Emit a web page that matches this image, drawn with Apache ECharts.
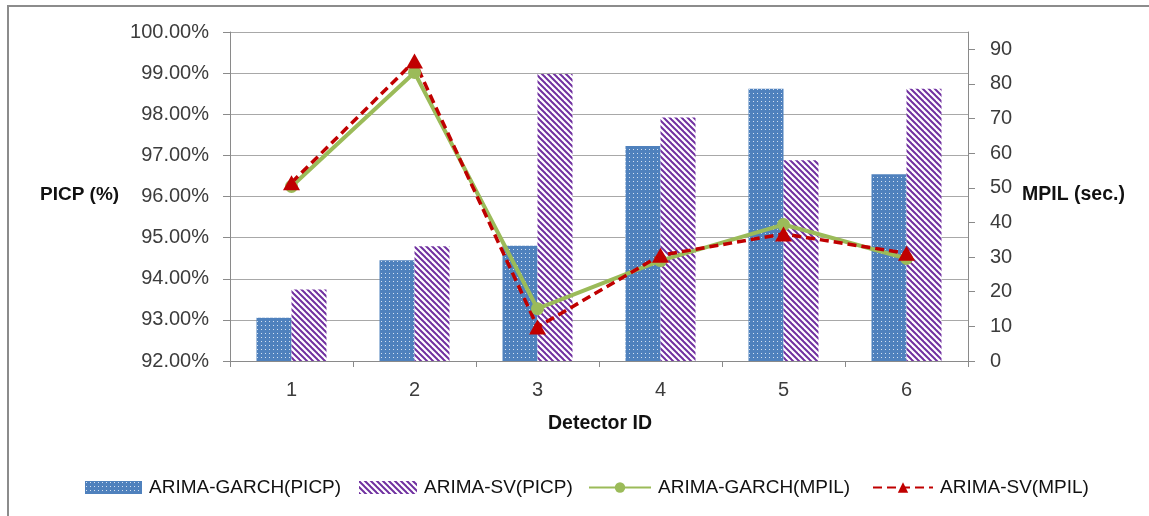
<!DOCTYPE html>
<html>
<head>
<meta charset="utf-8">
<script src="https://cdn.jsdelivr.net/npm/echarts@6/dist/echarts.min.js"></script>
<style>
  html, body { margin: 0; padding: 0; background: #fff; }
  #chart { width: 1149px; height: 516px; }
</style>
</head>
<body>
<div id="chart"></div>
<script>
// Detector categories
const detectors = ['1', '2', '3', '4', '5', '6'];
// Prediction interval coverage probability (%)
const garchPICP = [93.05, 94.45, 94.80, 97.23, 98.62, 96.54];
const svPICP = [93.74, 94.79, 98.98, 97.92, 96.88, 98.62];
// Mean prediction interval length (sec.)
const garchMPIL = [50.4, 83.3, 15.1, 29.0, 39.4, 29.6];
const svMPIL = [51.5, 86.6, 9.8, 30.5, 36.7, 31.1];
// Right axis tick labels
const mpilTicks = [0, 10, 20, 30, 40, 50, 60, 70, 80, 90];

const FONT = 'Liberation Sans';
const TEXT = '#3c3c3c';
const AXIS = '#8a8a8a';

// Blue fill with a fine white dot grid
function dotPattern() {
  const c = document.createElement('canvas');
  c.width = 4; c.height = 4;
  const g = c.getContext('2d');
  g.fillStyle = '#4F81BD';
  g.fillRect(0, 0, 4, 4);
  g.fillStyle = 'rgba(235,242,250,0.85)';
  g.fillRect(1, 1, 1, 1);
  return c;
}
// White fill with purple downward diagonal stripes
function stripePattern() {
  const c = document.createElement('canvas');
  c.width = 6; c.height = 6;
  const g = c.getContext('2d');
  g.fillStyle = '#ffffff';
  g.fillRect(0, 0, 6, 6);
  g.strokeStyle = '#7030A0';
  g.lineWidth = 2;
  for (let k = -1; k <= 1; k++) {
    g.beginPath();
    g.moveTo(-1, k * 6 - 1);
    g.lineTo(7, k * 6 + 7);
    g.stroke();
  }
  return c;
}
const dotFill = { image: dotPattern(), repeat: 'repeat' };
const stripeFill = { image: stripePattern(), repeat: 'repeat' };

const chart = echarts.init(document.getElementById('chart'), null, { renderer: 'canvas' });

const legendBase = {
  top: 478,
  padding: 0,
  itemHeight: 13,
  itemGap: 0,
  textStyle: { fontFamily: FONT, fontSize: 19, color: '#111', padding: [0, 0, 0, 2] }
};

chart.setOption({
  animation: false,
  textStyle: { fontFamily: FONT },
  grid: { left: 230, right: 181, top: 32, bottom: 155 },
  legend: [
    Object.assign({}, legendBase, { left: 85, itemWidth: 57, icon: 'rect', data: ['ARIMA-GARCH(PICP)'] }),
    Object.assign({}, legendBase, { left: 359, itemWidth: 58, icon: 'rect', data: ['ARIMA-SV(PICP)'] }),
    Object.assign({}, legendBase, { left: 588, itemWidth: 62, data: ['ARIMA-GARCH(MPIL)'] }),
    Object.assign({}, legendBase, { left: 872, itemWidth: 60, data: ['ARIMA-SV(MPIL)'] })
  ],
  xAxis: {
    type: 'category',
    data: detectors,
    axisLine: { lineStyle: { color: AXIS, width: 1 } },
    axisTick: { show: true, length: 6, alignWithLabel: false, lineStyle: { color: AXIS } },
    axisLabel: { color: TEXT, fontSize: 20, margin: 19 },
    splitLine: { show: false }
  },
  yAxis: [
    {
      type: 'value',
      min: 92,
      max: 100,
      interval: 1,
      axisLine: { show: true, lineStyle: { color: AXIS } },
      axisTick: { show: true, length: 7, lineStyle: { color: AXIS } },
      axisLabel: { color: TEXT, fontSize: 20, margin: 21, formatter: v => v.toFixed(2) + '%' },
      splitLine: { show: true, lineStyle: { color: '#a8a8a8', width: 1 } }
    },
    {
      type: 'value',
      min: 0,
      max: 95,
      interval: 10,
      position: 'right',
      axisLine: { show: true, lineStyle: { color: AXIS } },
      axisTick: { show: true, length: 7, customValues: mpilTicks, lineStyle: { color: AXIS } },
      axisLabel: { color: TEXT, fontSize: 20, margin: 22, customValues: mpilTicks },
      splitLine: { show: false }
    }
  ],
  graphic: [
    { type: 'polyline', shape: { points: [[8, 516], [8, 6], [1149, 6]] },
      style: { stroke: '#8c8c8c', lineWidth: 2, fill: null }, silent: true },
    { type: 'text', left: 40, top: 185,
      style: { text: 'PICP (%)', font: 'bold 19px "Liberation Sans"', fill: '#111' } },
    { type: 'text', left: 1022, top: 185,
      style: { text: 'MPIL (sec.)', font: 'bold 19.5px "Liberation Sans"', fill: '#111' } },
    { type: 'text', x: 600, y: 414,
      style: { text: 'Detector ID', font: 'bold 19.5px "Liberation Sans"', fill: '#111', textAlign: 'center' } }
  ],
  series: [
    {
      name: 'ARIMA-GARCH(PICP)',
      type: 'bar',
      yAxisIndex: 0,
      barWidth: 35,
      barGap: '0%',
      data: garchPICP,
      itemStyle: { color: dotFill }
    },
    {
      name: 'ARIMA-SV(PICP)',
      type: 'bar',
      yAxisIndex: 0,
      barWidth: 35,
      barGap: '0%',
      data: svPICP,
      itemStyle: { color: stripeFill }
    },
    {
      name: 'ARIMA-GARCH(MPIL)',
      type: 'line',
      yAxisIndex: 1,
      data: garchMPIL,
      symbol: 'circle',
      symbolSize: 13,
      lineStyle: { color: '#9BBB59', width: 4 },
      itemStyle: { color: '#9BBB59' }
    },
    {
      name: 'ARIMA-SV(MPIL)',
      type: 'line',
      yAxisIndex: 1,
      data: svMPIL,
      symbol: 'triangle',
      symbolSize: [17, 15],
      lineStyle: { color: '#C00000', width: 3.5, type: [9, 5] },
      itemStyle: { color: '#C00000' }
    }
  ]
});
</script>
</body>
</html>
